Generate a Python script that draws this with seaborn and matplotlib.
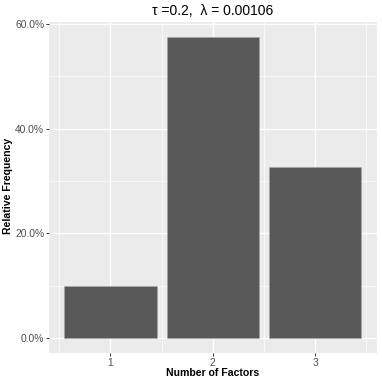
import matplotlib
matplotlib.use("Agg")
import matplotlib.pyplot as plt
import seaborn as sns
import pandas as pd
from matplotlib.ticker import FixedLocator

n_factors = [1, 2, 3]
rel_freq = [0.099, 0.574, 0.326]
y_ticks = [0.0, 0.2, 0.4, 0.6]
y_tick_labels = ["0.0%", "20.0%", "40.0%", "60.0%"]
title = "τ =0.2,  λ = 0.00106"
x_label = "Number of Factors"
y_label = "Relative Frequency"

sns.set_theme(style="darkgrid")
plt.rcParams['font.family'] = ['Liberation Sans', 'DejaVu Sans']

df = pd.DataFrame({"k": n_factors, "f": rel_freq})

W = H = 382.0
fig = plt.figure(figsize=(3.82, 3.82), dpi=100)
ax = fig.add_axes([49 / W, 1 - 353.3 / H, (376.7 - 49) / W, (353.3 - 22.3) / H])
ax.set_facecolor("#EBEBEB")

sns.barplot(data=df, x="k", y="f", native_scale=True, width=0.9,
            color="#595959", saturation=1, edgecolor="#A8A8A8", linewidth=0.4,
            ax=ax, zorder=3)

ymax = max(rel_freq)
ax.set_xlim(0.4, 3.6)
ax.set_ylim(-0.05 * ymax, ymax * 1.05)

ax.xaxis.set_major_locator(FixedLocator(n_factors))
ax.xaxis.set_minor_locator(FixedLocator([0.5, 1.5, 2.5, 3.5]))
ax.yaxis.set_major_locator(FixedLocator(y_ticks))
ax.yaxis.set_minor_locator(FixedLocator([0.1, 0.3, 0.5]))
ax.set_xticklabels([str(v) for v in n_factors])
ax.set_yticklabels(y_tick_labels)

ax.grid(which="major", color="white", linewidth=1.0, zorder=0)
ax.grid(which="minor", color="white", linewidth=0.5, zorder=0)
ax.set_axisbelow(True)
for s in ax.spines.values():
    s.set_visible(False)

ax.tick_params(axis="both", which="major", length=2.2, width=0.7, color="#333333",
               labelsize=7.4, labelcolor="#4D4D4D", pad=1.2, bottom=True, left=True)
ax.tick_params(axis="both", which="minor", length=0)

ax.set_xlabel("")
ax.set_ylabel("")
fig.text(213 / W, 1 - 373 / H, x_label, fontsize=7.6, fontweight="bold",
         color="black", ha="center", va="center")
fig.text(8.5 / W, 1 - 186 / H, y_label, fontsize=7.6, fontweight="bold",
         color="black", ha="center", va="center", rotation=90)
ax.set_title(title, fontsize=10, color="black", pad=5)

fig.savefig("out.png", dpi=100, facecolor="white")
